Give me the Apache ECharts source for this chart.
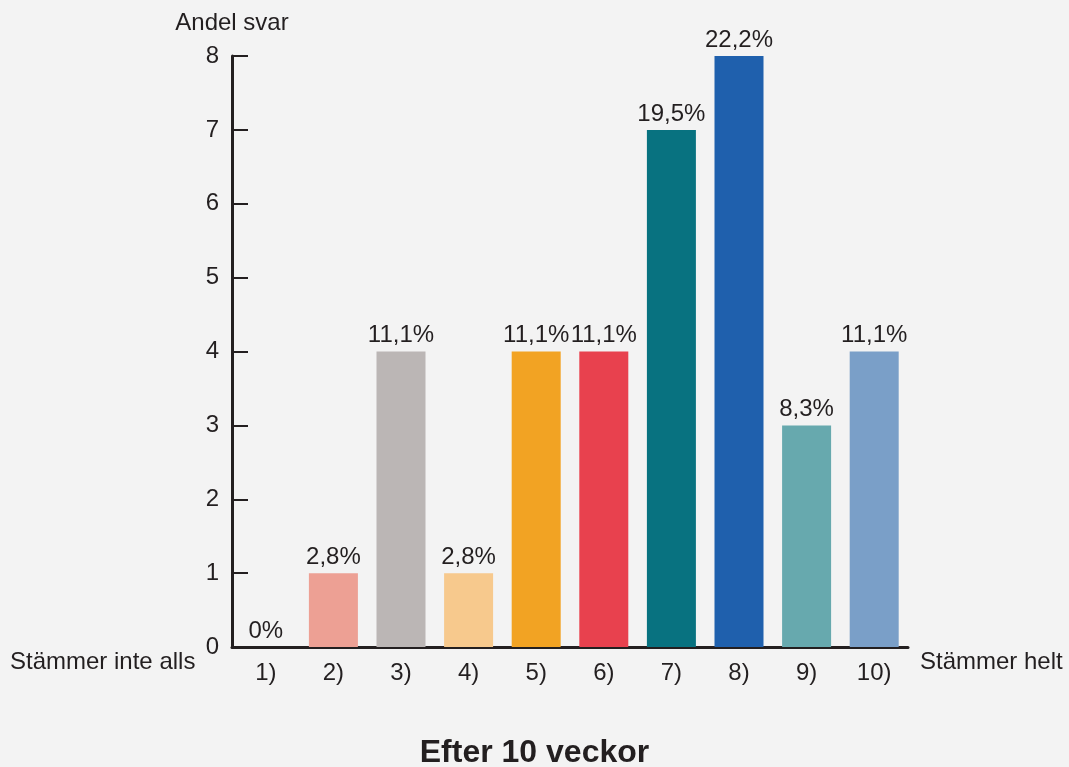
<!DOCTYPE html>
<html>
<head>
<meta charset="utf-8">
<script src="https://cdn.jsdelivr.net/npm/echarts@6/dist/echarts.min.js"></script>
<style>
  html, body { margin: 0; padding: 0; background: #f3f3f3; }
  #chart { width: 1069px; height: 767px; }
</style>
</head>
<body>
<div id="chart"></div>
<script>
const categories = ['1)', '2)', '3)', '4)', '5)', '6)', '7)', '8)', '9)', '10)']
const counts = [0, 1, 4, 1, 4, 4, 7, 8, 3, 4]
const percentLabels = ['0%', '2,8%', '11,1%', '2,8%', '11,1%', '11,1%', '19,5%', '22,2%', '8,3%', '11,1%']
const barColors = ['#9e9e9e', '#eda094', '#bbb6b5', '#f7c98d', '#f2a323', '#e8414e', '#087280', '#1f60ad', '#67a9ae', '#7a9fc8']

const font = 'Arial, "Liberation Sans", sans-serif'
const ink = '#231f20'
const fs = 24

let chart = echarts.init(document.getElementById('chart'))
chart.setOption({
    backgroundColor: '#f3f3f3',
    textStyle: { fontFamily: font },
    animation: false,
    grid: {
        left: 232,
        right: 161,
        top: 56,
        bottom: 120,
        containLabel: false
    },
    title: {
        text: 'Efter 10 veckor',
        left: 'center',
        top: 732,
        textStyle: { fontFamily: font, fontSize: 32, fontWeight: 'bold', color: ink }
    },
    graphic: [
        {
            type: 'text',
            left: 10,
            top: 650,
            style: { text: 'Stämmer inte alls', font: fs + 'px ' + font, fill: ink }
        },
        {
            type: 'text',
            left: 920,
            top: 650,
            style: { text: 'Stämmer helt', font: fs + 'px ' + font, fill: ink }
        }
    ],
    xAxis: {
        type: 'category',
        data: categories,
        boundaryGap: true,
        axisLine: { lineStyle: { color: ink, width: 3 } },
        axisTick: { inside: true, length: 12, lineStyle: { color: ink, width: 2 } },
        axisLabel: { color: ink, fontSize: fs, margin: 14, fontFamily: font }
    },
    yAxis: {
        type: 'value',
        min: 0,
        max: 8,
        interval: 1,
        name: 'Andel svar',
        nameLocation: 'end',
        nameGap: 21,
        nameTextStyle: { color: ink, fontSize: fs, fontFamily: font, align: 'center' },
        axisLine: { show: true, lineStyle: { color: ink, width: 3 } },
        axisTick: { show: true, inside: true, length: 16, lineStyle: { color: ink, width: 2 } },
        axisLabel: { color: ink, fontSize: fs, margin: 13, fontFamily: font, padding: [7, 0, 0, 0] },
        splitLine: { show: false }
    },
    series: [{
        type: 'bar',
        data: counts.map((v, i) => ({ value: v, itemStyle: { color: barColors[i] } })),
        barWidth: 49,
        label: {
            show: true,
            position: 'top',
            distance: 4,
            color: ink,
            fontSize: fs,
            fontFamily: font,
            formatter: p => percentLabels[p.dataIndex]
        }
    }]
})
</script>
</body>
</html>
